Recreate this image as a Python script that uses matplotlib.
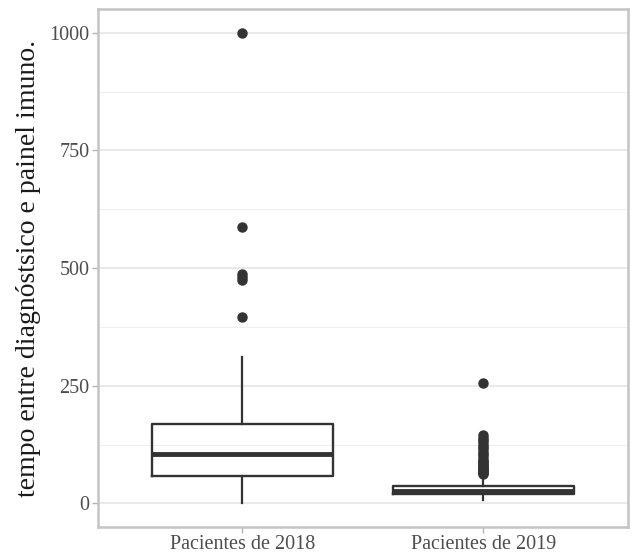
import numpy as np
import matplotlib
matplotlib.use("Agg")
import matplotlib.pyplot as plt

# dados
grupos = ["Pacientes de 2018", "Pacientes de 2019"]
q1 = [58, 21]
mediana = [104, 25.5]
q3 = [168, 36.5]
whisker_baixo = [0, 7]
whisker_alto = [312, 59]
outliers_2018 = [395, 474, 480, 488, 588, 1000]
outliers_2019 = [62, 64, 66, 68, 70, 72, 75, 78, 80, 82, 85, 88, 90, 95,
                 100, 105, 110, 115, 120, 125, 130, 135, 140, 145, 255]
y_ticks = [0, 250, 500, 750, 1000]

plt.rcParams['font.family'] = ['Liberation Serif', 'DejaVu Serif']

fig = plt.figure(figsize=(6.36, 5.58), dpi=100)
ax = fig.add_axes([0.154, 0.0556, 0.833, 0.928])

stats = []
for i, nome in enumerate(grupos):
    stats.append({
        "label": nome,
        "q1": q1[i], "med": mediana[i], "q3": q3[i],
        "whislo": whisker_baixo[i], "whishi": whisker_alto[i],
        "fliers": [outliers_2018, outliers_2019][i],
    })

cor = "#333333"
ax.bxp(stats, positions=[1, 2], widths=0.75, showcaps=False,
       boxprops=dict(color=cor, linewidth=1.7),
       whiskerprops=dict(color=cor, linewidth=1.6),
       medianprops=dict(color=cor, linewidth=3.5, solid_capstyle="butt"),
       flierprops=dict(marker="o", markerfacecolor=cor, markeredgecolor=cor,
                       markersize=6.5, linestyle="none"),
       zorder=3)

ax.set_xlim(0.4, 2.6)
ax.set_ylim(-50, 1050)
ax.set_yticks(y_ticks)
ax.set_yticks([125, 375, 625, 875], minor=True)
ax.grid(axis="y", which="major", color="#e3e3e3", linewidth=1.1, zorder=0)
ax.grid(axis="y", which="minor", color="#efefef", linewidth=0.8, zorder=0)
ax.grid(axis="x", visible=False)
ax.set_axisbelow(True)

for s in ax.spines.values():
    s.set_color("#c4c4c4")
    s.set_linewidth(1.8)

ax.tick_params(axis="both", which="major", color="#b3b3b3", length=4,
               width=1, labelcolor="#4d4d4d", labelsize=14.5, pad=2)
ax.tick_params(axis="y", which="minor", length=0)
ax.set_xticklabels(grupos)
ax.set_ylabel("tempo entre diagnóstsico e painel imuno.", fontsize=20,
              color="#1a1a1a", labelpad=6)

fig.savefig("out.png", dpi=100)
